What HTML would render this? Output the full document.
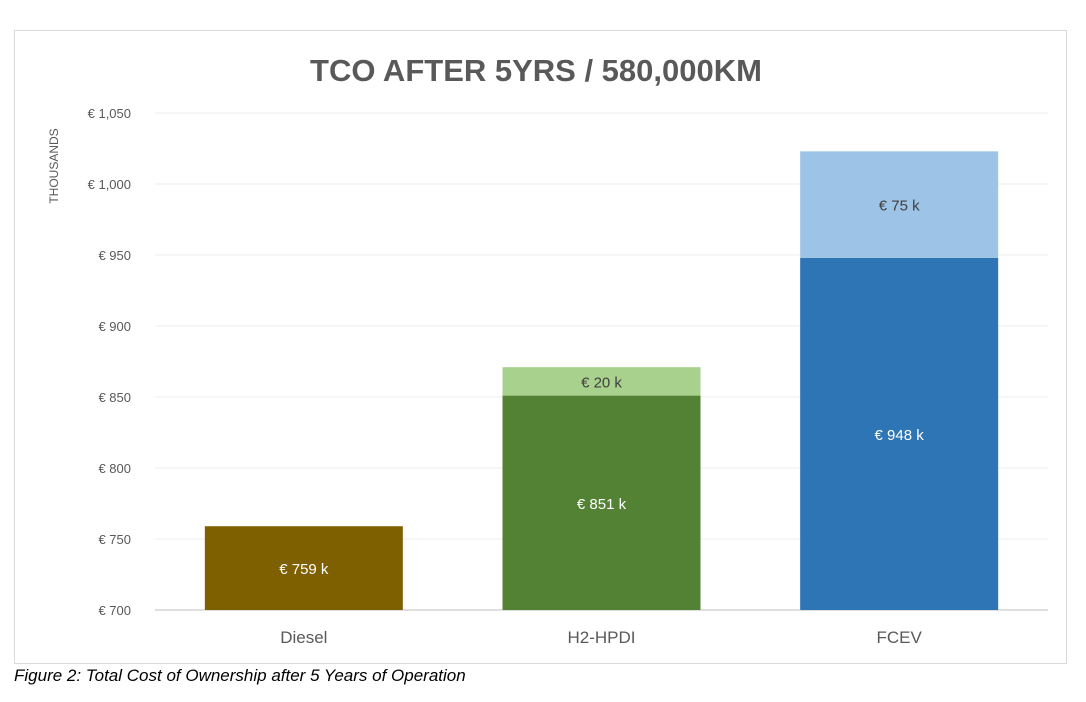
<!DOCTYPE html>
<html><head><meta charset="utf-8"><style>
body{margin:0;background:#fff;width:1086px;height:702px;overflow:hidden;font-family:"Liberation Sans",sans-serif}
#frame{position:absolute;left:14px;top:30px;width:1051px;height:632px;border:1px solid #d9d9d9}
#cap{position:absolute;left:14px;top:666px;font-style:italic;font-size:17px;color:#000}
</style></head><body>
<div id="frame"></div>
<svg id="c" width="1086" height="702" style="position:absolute;left:0;top:0"></svg>
<div id="cap">Figure 2: Total Cost of Ownership after 5 Years of Operation</div>
<script>
const categories=["Diesel","H2-HPDI","FCEV"];
const baseValues=[759,851,948];
const extraValues=[0,20,75];
const yTicks=[700,750,800,850,900,950,1000,1050];
const yTickLabels=["€ 700","€ 750","€ 800","€ 850","€ 900","€ 950","€ 1,000","€ 1,050"];
const baseColors=["#7f6000","#548235","#2e75b6"];
const extraColors=["#7f6000","#a9d18e","#9dc3e6"];
const svg=document.getElementById('c');const NS="http://www.w3.org/2000/svg";
const x0=155,x1=1048,yMin=700,yMax=1050,py0=610,py1=113;
const y=v=>py0-(v-yMin)/(yMax-yMin)*(py0-py1);
const bw=(x1-x0)/categories.length;
const xc=i=>x0+bw*(i+0.5);
function mk(t,a,txt){const e=document.createElementNS(NS,t);for(const k in a)e.setAttribute(k,a[k]);if(txt!=null)e.textContent=txt;svg.appendChild(e);return e;}
let t=mk('text',{x:536,y:81,'text-anchor':'middle','font-size':31,'font-weight':'bold',fill:'#595959'},'TCO AFTER 5YRS / 580,000KM');

t=mk('text',{x:58,y:166,'text-anchor':'middle','font-size':12,fill:'#595959',transform:'rotate(-90 58 166)'},'THOUSANDS');

yTicks.forEach((v,i)=>{
  let g=mk('line',{x1:x0,x2:x1,y1:y(v),y2:y(v),stroke:i==0?'#bfbfbf':'#ececec','stroke-width':1});
  
  let l=mk('text',{x:131,y:y(v)+5,'text-anchor':'end','font-size':13,fill:'#595959'},yTickLabels[i]);
  
});
categories.forEach((c,i)=>{
  const bx=xc(i)-99,w=198;
  let r=mk('rect',{x:bx,y:y(baseValues[i]),width:w,height:y(yMin)-y(baseValues[i]),fill:baseColors[i]});
  
  let l=mk('text',{x:xc(i),y:(y(baseValues[i])+py0)/2+6,'text-anchor':'middle','font-size':15,fill:'#fff'},'€ '+baseValues[i]+' k');
  
  if(extraValues[i]>0){
    const top=baseValues[i]+extraValues[i];
    r=mk('rect',{x:bx,y:y(top),width:w,height:y(baseValues[i])-y(top),fill:extraColors[i]});
    
    l=mk('text',{x:xc(i),y:(y(top)+y(baseValues[i]))/2+6,'text-anchor':'middle','font-size':15,fill:'#404040'},'€ '+extraValues[i]+' k');
    
  }
  l=mk('text',{x:xc(i),y:643,'text-anchor':'middle','font-size':17,fill:'#595959'},c);
  
});
</script>
</body></html>
